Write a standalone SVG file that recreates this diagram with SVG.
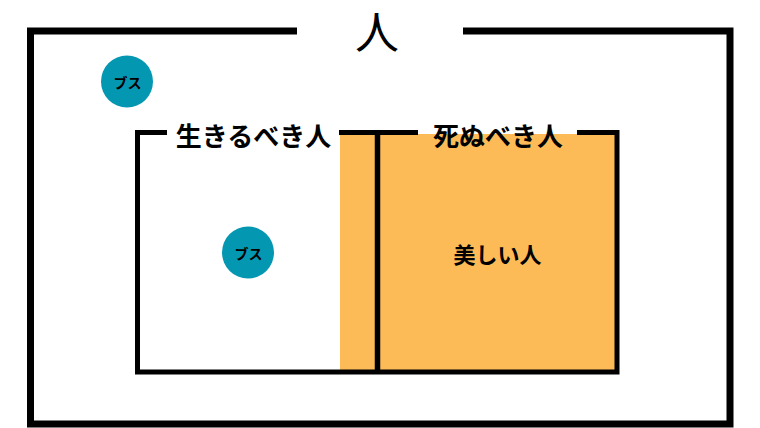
<svg xmlns="http://www.w3.org/2000/svg" width="760" height="428" viewBox="0 0 760 428">
<style>
.ln{fill:none;stroke:#000;stroke-linecap:butt;stroke-linejoin:miter}
.jp{font-family:"Noto Sans CJK JP","Noto Sans",sans-serif;fill:#000;text-anchor:middle;dominant-baseline:central}
.b{font-weight:bold}
.dot{fill:#0497B2}
</style>
<rect width="760" height="428" fill="#fff"/>
<g id="outer">
<path class="ln" stroke-width="7" d="M297,31 H30.5 V424 H730 V31 H463"/>
<text class="jp" x="377" y="30" font-size="44">人</text>
</g>
<g id="dead-fill">
<rect x="340" y="134" width="276" height="236" fill="#FDBB58"/>
</g>
<g id="inner">
<path class="ln" stroke-width="5" d="M167,132.5 H137.5 V372 H617 V132.5 H577"/>
<path class="ln" stroke-width="5" d="M339,132.5 H418"/>
<path class="ln" stroke-width="5.5" d="M377.5,132.5 V372"/>
</g>
<g id="live-label"><text class="jp b" x="253.5" y="134" font-size="26">生きるべき人</text></g>
<g id="die-label"><text class="jp b" x="498" y="134" font-size="26">死ぬべき人</text></g>
<g id="beautiful"><text class="jp b" x="497.5" y="253" font-size="22">美しい人</text></g>
<g id="busu1">
<circle class="dot" cx="127" cy="81.5" r="26"/>
<text class="jp b" x="127.5" y="82" font-size="14">ブス</text>
</g>
<g id="busu2">
<circle class="dot" cx="248" cy="252.5" r="26"/>
<text class="jp b" x="248.5" y="253" font-size="14">ブス</text>
</g>
<g id="connectors"></g>
</svg>
